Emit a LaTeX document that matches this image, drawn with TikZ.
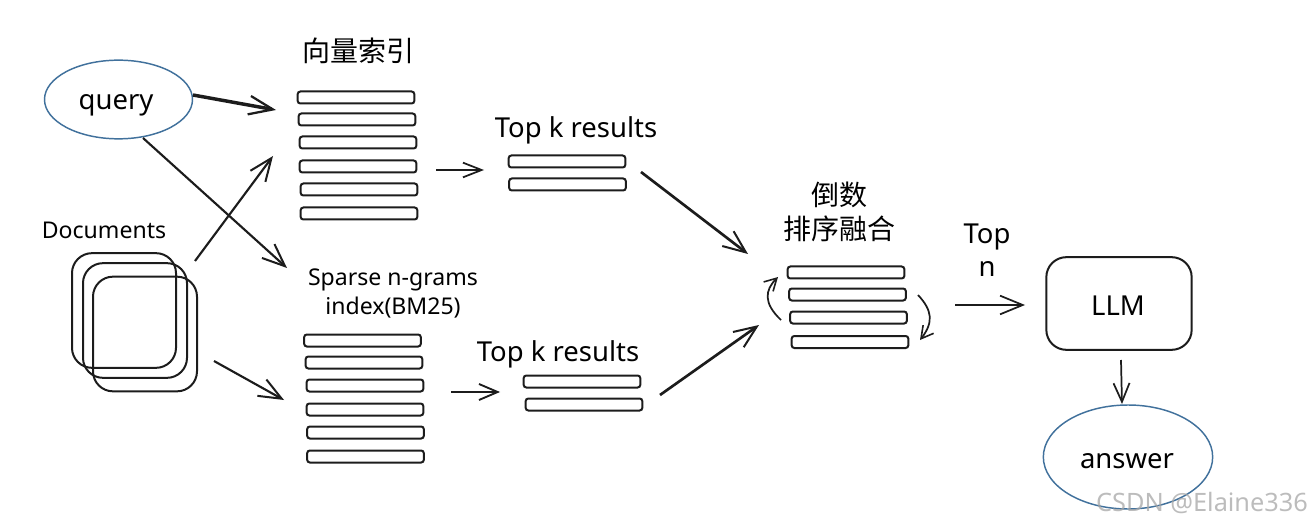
\documentclass[tikz,border=0pt]{standalone}
\usepackage{fontspec}
\setmainfont{Noto Sans}
\newfontfamily\cjk{Noto Sans CJK SC}
\usetikzlibrary{arrows.meta,shapes.geometric}
\definecolor{ovalblue}{HTML}{41719C}
\definecolor{inkk}{HTML}{1C1C1C}
\tikzset{
  every node/.style={inner sep=0pt,outer sep=0pt},
  barbox/.style={draw=inkk,line width=1.5pt,rounded corners=2pt,minimum width=87.5pt,minimum height=9pt},
  docbox/.style={draw=inkk,line width=1.5pt,rounded corners=15pt,minimum width=78pt,minimum height=86pt},
  oval/.style={draw=ovalblue,ellipse,line width=1.1pt},
  conn/.style={draw=inkk,line width=1.6pt,-{Straight Barb[length=17pt,width=14pt,line width=1.5pt]}},
  lab/.style={font=\fontsize{20.6pt}{24pt}\selectfont,align=center,text=black},
  labs/.style={font=\fontsize{17.3pt}{21.8pt}\selectfont,align=center,text=black},
  cjklab/.style={font=\cjk\fontsize{21pt}{25.5pt}\selectfont,align=center,text=black},
}
\begin{document}
\begin{tikzpicture}[x=0.75pt,y=-0.75pt]
\useasboundingbox (0,0) rectangle (1311,524);
% ovals
\node[oval,minimum width=111pt,minimum height=59pt] (query) at (118.5,99.5) {};
\node[lab] at (116,105) {query};
\node[oval,minimum width=127pt,minimum height=78pt] (answer) at (1128,457) {};
\node[lab] at (1127,461) {answer};
% labels
\node[cjklab] (tvec) at (358,51) {向量索引};
\node[labs] (tdocs) at (104,230) {Documents};
\node[lab] (tk1) at (576,130) {Top k results};
\node[labs] (tsparse) at (393,293.5) {Sparse n-grams\\index(BM25)};
\node[lab] (tk2) at (558,354) {Top k results};
\node[cjklab] (tmerge) at (839,212) {倒数\\排序融合};
\node[lab,font=\fontsize{20.6pt}{25pt}\selectfont] (tn) at (987,250) {Top\\n};
% documents
\node[docbox] (d1) at (124,310.5) {};
\node[docbox] (d2) at (135,320.5) {};
\node[docbox] (d3) at (145,334) {};
% vector bars
\node[barbox] (v1) at (356,97.5) {};
\node[barbox] (v2) at (357,119.5) {};
\node[barbox] (v3) at (358,142.5) {};
\node[barbox] (v4) at (358,166.5) {};
\node[barbox] (v5) at (359,189.5) {};
\node[barbox] (v6) at (359,213.5) {};
% sparse bars
\node[barbox] (s1) at (362.5,340.5) {};
\node[barbox] (s2) at (364,362.5) {};
\node[barbox] (s3) at (365,385.5) {};
\node[barbox] (s4) at (365,409.5) {};
\node[barbox] (s5) at (365.5,432.5) {};
\node[barbox] (s6) at (365.5,456.5) {};
% top k bars
\node[barbox] (a1) at (567,161.5) {};
\node[barbox] (a2) at (567.5,184.5) {};
\node[barbox] (b1) at (582,381.5) {};
\node[barbox] (b2) at (584,404.5) {};
% merged bars
\node[barbox] (m1) at (846,272.5) {};
\node[barbox] (m2) at (847.5,294.5) {};
\node[barbox] (m3) at (848.5,317.5) {};
\node[barbox] (m4) at (850,342) {};
% LLM
\node[draw=inkk,line width=1.5pt,rounded corners=15pt,minimum width=109pt,minimum height=69.5pt] (llm) at (1119,303.5) {};
\node[lab] at (1118,306) {LLM};
% free ends
\coordinate (qs) at (193,95);
\coordinate (qe) at (276,110);
\coordinate (qs2) at (143,138);
\coordinate (qe2) at (287,268);
\coordinate (ds) at (195,261);
\coordinate (de) at (273,156);
\coordinate (ds2) at (214,361);
\coordinate (de2) at (284,400);
\coordinate (vs) at (436,170);
\coordinate (ve) at (484,170);
\coordinate (ss) at (451,392);
\coordinate (se) at (500,392);
\coordinate (as) at (641,172);
\coordinate (ae) at (748,254);
\coordinate (bs) at (660,395);
\coordinate (be) at (759,325);
\coordinate (ns) at (955,305);
\coordinate (ne) at (1025,305);
\coordinate (ls) at (1121,360);
\coordinate (le) at (1122,404);
% connectors
\draw[conn,line width=2.6pt,-{Straight Barb[length=18pt,width=14pt,line width=1.7pt]}] (qs) -- (qe);
\draw[conn] (qs2) -- (qe2);
\draw[conn] (ds) -- (de);
\draw[conn] (ds2) -- (de2);
\draw[conn,-{Straight Barb[length=14pt,width=11pt,line width=1.3pt]}] (vs) -- (ve);
\draw[conn,line width=2pt,-{Straight Barb[length=14pt,width=12pt,line width=1.4pt]}] (ss) -- (se);
\draw[conn,line width=2pt] (as) -- (ae);
\draw[conn,line width=2pt] (bs) -- (be);
\draw[conn,line width=1.2pt,-{Straight Barb[length=17pt,width=14pt,line width=1.3pt]}] (ns) -- (ne);
\draw[conn,line width=1.3pt,-{Straight Barb[length=14pt,width=12pt,line width=1.3pt]}] (ls) -- (le);
% circular arrows
\coordinate (cl1) at (781,320);
\coordinate (cl2) at (778,277);
\coordinate (cr1) at (918,295);
\coordinate (cr2) at (920,340);
\draw[conn,line width=1.3pt,-{Straight Barb[length=9pt,width=10pt,line width=1.2pt]}] (cl1) .. controls (763,303) and (765,290) .. (cl2);
\draw[conn,line width=1.3pt,-{Straight Barb[length=9pt,width=10pt,line width=1.2pt]}] (cr1) .. controls (932,310) and (934,322) .. (cr2);
% watermark
\node[text=gray!70,opacity=.75,font=\fontsize{19pt}{22pt}\selectfont] (wm) at (1202,503) {CSDN @Elaine336};
\end{tikzpicture}
\end{document}
